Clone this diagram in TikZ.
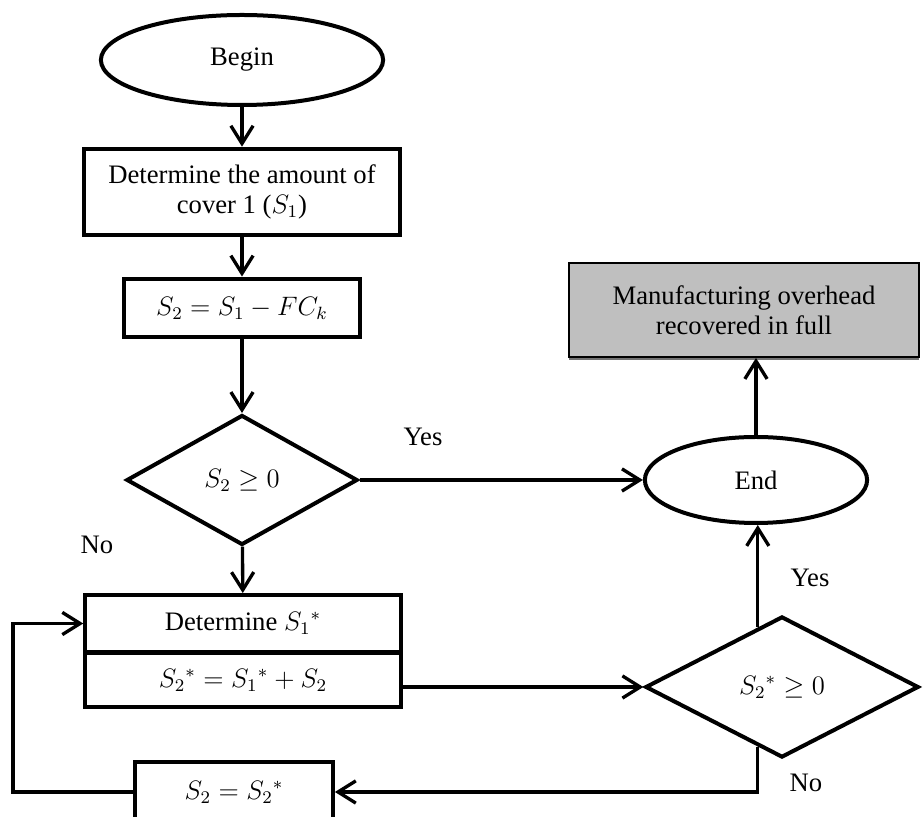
\documentclass[tikz,border=0pt]{standalone}
\usepackage{fontspec}
\setmainfont{Liberation Serif}
\usepackage{tikz}
\usetikzlibrary{arrows.meta,shapes.geometric,shadows}

\begin{document}
\begin{tikzpicture}[
        x=0.45pt, y=-0.45pt,
        font=\fontsize{12}{13.5}\selectfont,
        box/.style={draw=black, line width=1.8pt, fill=white, align=center, inner sep=2pt},
        term/.style={box, ellipse},
        decision/.style={box, diamond, inner sep=0pt},
        result/.style={draw=black, line width=0.9pt, fill=black!25, align=center,
                       drop shadow={shadow xshift=0pt, shadow yshift=-1.2pt, fill=black!55, opacity=1}},
        lbl/.style={inner sep=1pt},
        arr/.style={-{Straight Barb[length=8pt,width=10pt]}, line width=1.5pt}
    ]
        \useasboundingbox (0,0) rectangle (923,817);
        \clip (0,0) rectangle (923,817);

        \node[term, minimum width=127pt, minimum height=40.5pt] (begin) at (242,60) {Begin};
        \node[box, minimum width=142pt, minimum height=39pt] (cover) at (242,192)
            {Determine the amount of\\cover 1 ($S_1$)};
        \node[box, minimum width=106pt, minimum height=26.5pt] (s2calc) at (242,308) {$S_2 = S_1 - FC_k$};
        \node[decision, minimum width=104pt, minimum height=58.5pt] (chk1) at (242,480) {$S_2 \geq 0$};
        \node[term, minimum width=100pt, minimum height=38.7pt] (finish) at (756,480) {End};
        \node[result, minimum width=157.5pt, minimum height=42.3pt] (full) at (744,310)
            {Manufacturing overhead\\recovered in full};
        \node[box, minimum width=142pt, minimum height=25.6pt] (s1star) at (243,623.5) {Determine $S_1{}^{*}$};
        \node[box, minimum width=142pt, minimum height=24.3pt, anchor=north, yshift=1.2pt] (s2star) at (s1star.south)
            {$S_2{}^{*} = S_1{}^{*} + S_2$};
        \node[box, minimum width=89pt, minimum height=27pt] (s2upd) at (234,792) {$S_2 = S_2{}^{*}$};
        \node[decision, minimum width=123pt, minimum height=63.5pt] (chk2) at (782,687) {$S_2{}^{*}\geq 0$};

        \node[lbl] (yes1) at (423,437) {Yes};
        \node[lbl] (no1) at (97,545) {No};
        \node[lbl] (yes2) at (810,578) {Yes};
        \node[lbl] (no2) at (806,783) {No};

        \draw[arr] (begin) -- (cover);
        \draw[arr] (cover) -- (s2calc);
        \draw[arr] (s2calc) -- (chk1);
        \draw[arr] (chk1) -- (finish);
        \draw[arr] (chk1) -- (s1star);
        \draw[arr] (finish.north) -- (finish.north |- full.south);
        \draw[arr] (s2star.east |- chk2.west) -- (chk2.west);
        \draw[arr] (chk2.112) -- (chk2.112 |- finish.south);
        \draw[arr] (chk2.248) |- (s2upd.east);
        \draw[arr] (s2upd.west) -- ++(-120,0) |- (s1star.west);
    \end{tikzpicture}
\end{document}
